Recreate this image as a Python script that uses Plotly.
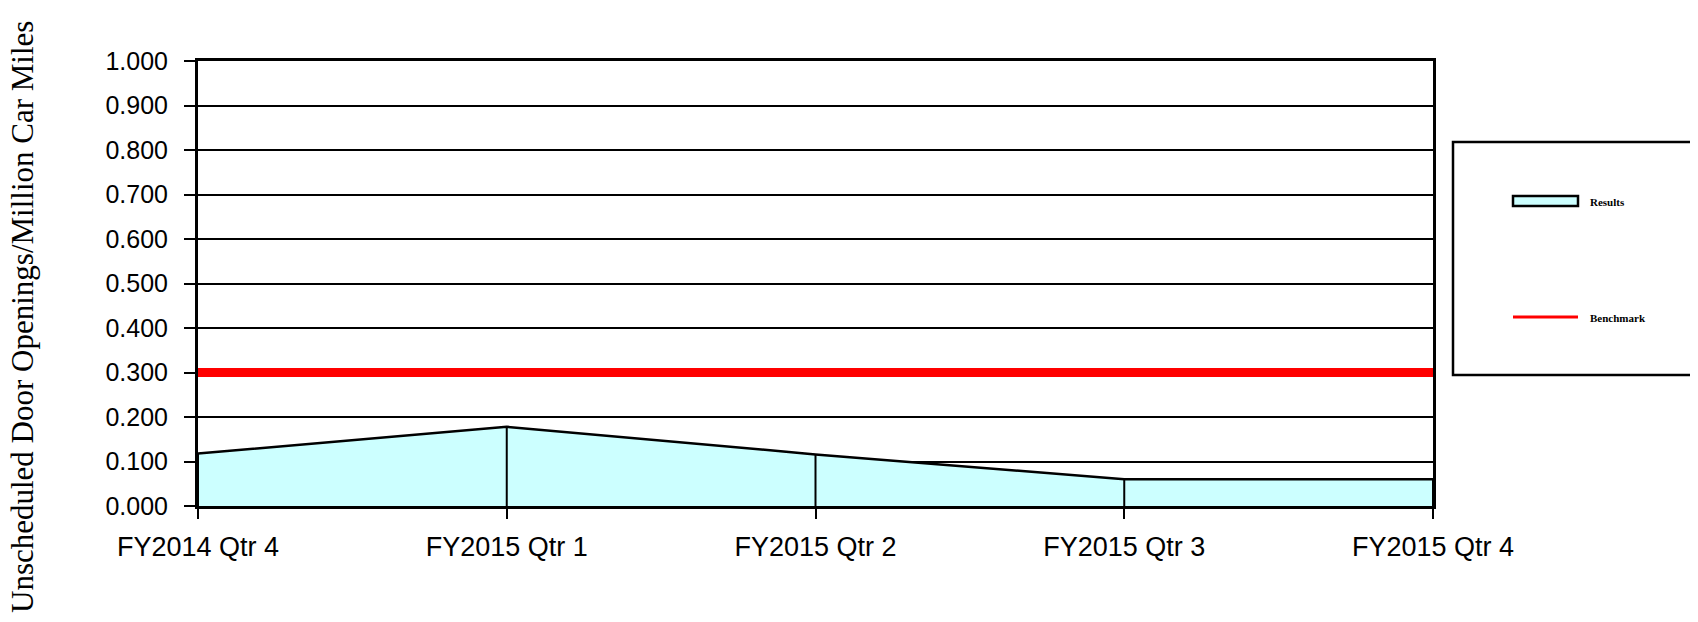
import plotly.graph_objects as go

quarters = ["FY2014 Qtr 4", "FY2015 Qtr 1", "FY2015 Qtr 2", "FY2015 Qtr 3", "FY2015 Qtr 4"]
results = [0.118, 0.178, 0.116, 0.060, 0.060]
benchmark = [0.300, 0.300, 0.300, 0.300, 0.300]
y_ticks = [0.0, 0.1, 0.2, 0.3, 0.4, 0.5, 0.6, 0.7, 0.8, 0.9, 1.0]

# page body adds an 8px margin, so the figure is drawn 8px smaller and offset
OFF = 8
W, H = 1698 - OFF, 622 - OFF
L, R, T, B = 198 - OFF, 265, 61 - OFF, 116
plot_w = W - L - R
plot_h = H - T - B


def px_x(x):
    # x given in window pixels
    return (x - OFF - L) / plot_w


def px_y(y):
    return (H - B - (y - OFF)) / plot_h


fig = go.Figure()

fig.add_trace(go.Scatter(
    x=quarters, y=results, name="Results",
    mode="lines", fill="tozeroy", fillcolor="#CCFFFF",
    line=dict(color="black", width=2.5),
    error_y=dict(type="data", symmetric=False, array=[0] * len(results),
                 arrayminus=results, color="black", thickness=2, width=0),
))
fig.add_trace(go.Scatter(
    x=quarters, y=benchmark, name="Benchmark",
    mode="lines", line=dict(color="#FF0000", width=9),
))

# legend box drawn by hand
shapes = [
    dict(type="rect", xref="paper", yref="paper",
         x0=px_x(1453), x1=px_x(1720), y0=px_y(375), y1=px_y(142),
         line=dict(color="black", width=2.5), fillcolor="white"),
    dict(type="rect", xref="paper", yref="paper",
         x0=px_x(1513), x1=px_x(1578), y0=px_y(206), y1=px_y(196),
         line=dict(color="black", width=2.5), fillcolor="#CCFFFF"),
    dict(type="line", xref="paper", yref="paper",
         x0=px_x(1513), x1=px_x(1578), y0=px_y(317), y1=px_y(317),
         line=dict(color="#FF0000", width=3)),
]
legend_font = dict(family="Liberation Serif, Times New Roman, serif", size=11, color="black")
annotations = [
    dict(text="<b>Results</b>", xref="paper", yref="paper", x=px_x(1588), y=px_y(202),
         xanchor="left", yanchor="middle", showarrow=False, font=legend_font),
    dict(text="<b>Benchmark</b>", xref="paper", yref="paper", x=px_x(1588), y=px_y(318),
         xanchor="left", yanchor="middle", showarrow=False, font=legend_font),
    dict(text="Unscheduled Door Openings/Million Car Miles", xref="paper", yref="paper",
         x=px_x(22), y=px_y(317), xanchor="center", yanchor="middle", textangle=-90,
         showarrow=False,
         font=dict(family="Liberation Serif, Times New Roman, serif", size=31, color="black")),
]

fig.update_layout(
    width=W, height=H,
    margin=dict(l=L, r=R, t=T, b=B),
    paper_bgcolor="white", plot_bgcolor="white",
    showlegend=False,
    shapes=shapes,
    annotations=annotations,
    font=dict(family="Liberation Sans, Arial, sans-serif", color="black"),
    xaxis=dict(
        type="category", range=[0, len(quarters) - 1],
        showgrid=False, showline=True, linecolor="black", linewidth=3, mirror=True,
        ticks="outside", ticklen=10, tickwidth=2, tickcolor="black",
        tickfont=dict(size=27), ticklabelstandoff=5,
    ),
    yaxis=dict(
        range=[0, 1.0], tickvals=y_ticks, tickformat=".3f",
        showgrid=True, gridcolor="black", gridwidth=2,
        zeroline=False,
        showline=True, linecolor="black", linewidth=3, mirror=True,
        ticks="outside", ticklen=11, tickwidth=2, tickcolor="black",
        tickfont=dict(size=25), ticklabelstandoff=11,
    ),
)

fig.write_html("out.html")
